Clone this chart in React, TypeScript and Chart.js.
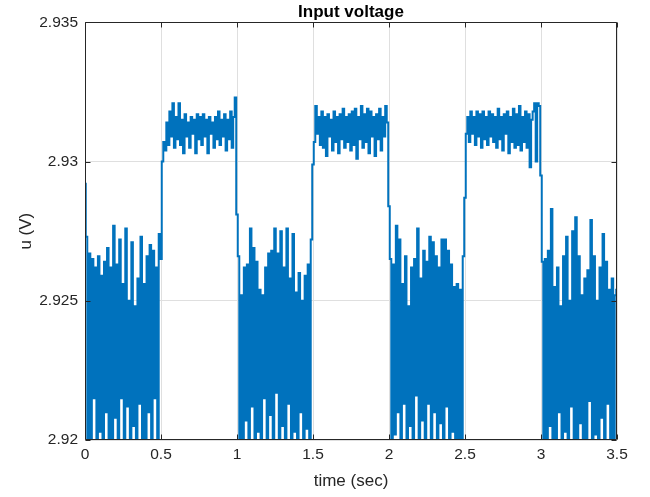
import React, { useEffect, useRef } from "react";
import { Chart, registerables } from "chart.js";

Chart.register(...registerables);

const TITLE = "Input voltage";
const X_LABEL = "time (sec)";
const Y_LABEL = "u (V)";
const X_TICKS = [0, 0.5, 1, 1.5, 2, 2.5, 3, 3.5];
const Y_TICKS = [2.92, 2.925, 2.93, 2.935];
const SAMPLE_STEP = 0.01;
const PERIOD_STARTS = [0, 0.5, 1, 1.5, 2, 2.5, 3];

// 0.00 .. 0.49 s
const period0 = [
  2.9292, 2.9273, 2.9195, 2.9267, 2.9198, 2.9265, 2.9215, 2.9262, 2.9192, 2.9266,
  2.9203, 2.9259, 2.9188, 2.9264, 2.921, 2.9269, 2.9196, 2.9262, 2.9186, 2.9277,
  2.9208, 2.9263, 2.9194, 2.9272, 2.9215, 2.9256, 2.919, 2.9276, 2.9212, 2.925,
  2.9196, 2.9271, 2.9205, 2.9248, 2.9188, 2.9258, 2.9213, 2.9273, 2.9197, 2.9256,
  2.919, 2.9266, 2.921, 2.927, 2.9194, 2.9268, 2.9215, 2.9262, 2.92, 2.9274,
];
// 0.50 .. 0.99 s
const period1 = [
  2.9265, 2.93, 2.9307, 2.9304, 2.9314, 2.9306, 2.9318, 2.9309, 2.9321, 2.9305,
  2.9316, 2.9308, 2.9321, 2.9306, 2.9315, 2.9303, 2.9317, 2.9309, 2.9314, 2.9305,
  2.9316, 2.931, 2.9315, 2.9303, 2.9317, 2.9308, 2.9316, 2.9306, 2.9317, 2.9309,
  2.9315, 2.9303, 2.9316, 2.931, 2.9314, 2.9305, 2.9316, 2.9308, 2.9318, 2.9306,
  2.9315, 2.9309, 2.9317, 2.9304, 2.9315, 2.9308, 2.9318, 2.9305, 2.9316, 2.9323,
];
// 1.00 .. 1.49 s
const period2 = [
  2.9281, 2.9266, 2.9192, 2.9252, 2.9188, 2.9262, 2.9207, 2.9263, 2.9194, 2.9276,
  2.9212, 2.9269, 2.9185, 2.9264, 2.9203, 2.9254, 2.919, 2.9252, 2.9215, 2.9262,
  2.9196, 2.9267, 2.9209, 2.9268, 2.919, 2.9276, 2.9217, 2.9267, 2.9195, 2.9275,
  2.9205, 2.9262, 2.9188, 2.9276, 2.9213, 2.9258, 2.9193, 2.9274, 2.9203, 2.9253,
  2.9188, 2.926, 2.921, 2.925, 2.9192, 2.9259, 2.9204, 2.9263, 2.9195, 2.9272,
];
// 1.50 .. 1.99 s
const period3 = [
  2.9299, 2.9307, 2.932, 2.931, 2.9316, 2.9306, 2.9318, 2.9305, 2.9316, 2.9302,
  2.9317, 2.9309, 2.9315, 2.9304, 2.9318, 2.9307, 2.9316, 2.9303, 2.9317, 2.9308,
  2.9319, 2.9305, 2.9316, 2.9307, 2.9317, 2.9304, 2.9318, 2.9306, 2.9319, 2.9301,
  2.9316, 2.9308, 2.932, 2.9305, 2.9317, 2.9307, 2.9319, 2.9303, 2.9318, 2.9309,
  2.9316, 2.9302, 2.9317, 2.9308, 2.9319, 2.9304, 2.9316, 2.9309, 2.932, 2.9314,
];
// 2.00 .. 2.49 s
const period4 = [
  2.9284, 2.9265, 2.919, 2.9263, 2.9202, 2.9277, 2.921, 2.9272, 2.9194, 2.9256,
  2.9213, 2.9266, 2.9186, 2.9248, 2.9205, 2.9262, 2.9192, 2.9265, 2.9216, 2.9276,
  2.9198, 2.9258, 2.9207, 2.9268, 2.9188, 2.9264, 2.9213, 2.9273, 2.9195, 2.9271,
  2.921, 2.9266, 2.919, 2.9262, 2.9206, 2.9272, 2.9193, 2.9272, 2.9212, 2.9268,
  2.9188, 2.9263, 2.9203, 2.9255, 2.9192, 2.9256, 2.92, 2.9254, 2.9196, 2.9266,
];
// 2.50 .. 2.99 s
const period5 = [
  2.9287, 2.931, 2.9316, 2.9307, 2.9318, 2.931, 2.9316, 2.9306, 2.9318, 2.9309,
  2.9317, 2.9305, 2.9318, 2.9308, 2.9316, 2.9306, 2.9318, 2.9309, 2.9317, 2.9307,
  2.9316, 2.9305, 2.9319, 2.9308, 2.9316, 2.9304, 2.9317, 2.931, 2.9318, 2.9303,
  2.9316, 2.9307, 2.9319, 2.9305, 2.9317, 2.9306, 2.932, 2.9304, 2.9316, 2.9307,
  2.9318, 2.9305, 2.9317, 2.9298, 2.9315, 2.9318, 2.9321, 2.93, 2.9321, 2.932,
];
// 3.00 .. 3.50 s
const period6 = [
  2.9295, 2.9264, 2.919, 2.9265, 2.9198, 2.9268, 2.9205, 2.9283, 2.9192, 2.9255,
  2.9188, 2.9262, 2.921, 2.9248, 2.9186, 2.9266, 2.9203, 2.9273, 2.919, 2.925,
  2.9212, 2.9275, 2.9198, 2.928, 2.9194, 2.9266, 2.9206, 2.9252, 2.9188, 2.9258,
  2.9195, 2.9261, 2.9214, 2.9279, 2.9192, 2.9266, 2.9202, 2.925, 2.919, 2.9262,
  2.9208, 2.9274, 2.9196, 2.9264, 2.9213, 2.9254, 2.919, 2.9258, 2.9198, 2.9252,
  2.9254,
];

const PERIODS = [period0, period1, period2, period3, period4, period5, period6];

const FONT_FAMILY = '"Liberation Sans", Arial, Helvetica, sans-serif';
const AXIS_COLOR = "#262626";
const GRID_COLOR = "#dfdfdf";
const LINE_COLOR = "#0072BD";

const boxPlugin = {
  id: "matlabBox",
  afterDatasetsDraw(chart: any) {
    const { ctx, chartArea, scales } = chart;
    const l = Math.round(chartArea.left) + 0.5;
    const r = Math.round(chartArea.right) - 0.5;
    const t = Math.round(chartArea.top) + 0.5;
    const b = Math.round(chartArea.bottom) - 0.5;
    const tickLen = 5;
    ctx.save();
    ctx.strokeStyle = AXIS_COLOR;
    ctx.lineWidth = 1;
    ctx.beginPath();
    ctx.rect(l, t, r - l, b - t);
    X_TICKS.forEach((v) => {
      const px = Math.round(scales.x.getPixelForValue(v)) + 0.5;
      ctx.moveTo(px, b);
      ctx.lineTo(px, b - tickLen);
      ctx.moveTo(px, t);
      ctx.lineTo(px, t + tickLen);
    });
    Y_TICKS.forEach((v) => {
      const py = Math.round(scales.y.getPixelForValue(v)) + 0.5;
      ctx.moveTo(l, py);
      ctx.lineTo(l + tickLen, py);
      ctx.moveTo(r, py);
      ctx.lineTo(r - tickLen, py);
    });
    ctx.stroke();
    ctx.restore();
  },
};

export default function App() {
  const canvasRef = useRef<HTMLCanvasElement | null>(null);

  useEffect(() => {
    if (!canvasRef.current) return;
    const points: { x: number; y: number }[] = [];
    PERIODS.forEach((vals, p) => {
      vals.forEach((v, i) => {
        points.push({ x: Number((PERIOD_STARTS[p] + i * SAMPLE_STEP).toFixed(2)), y: v });
      });
    });

    const chart = new Chart(canvasRef.current, {
      type: "line",
      data: {
        datasets: [
          {
            label: "u",
            data: points,
            borderColor: LINE_COLOR,
            backgroundColor: LINE_COLOR,
            borderWidth: 2,
            pointRadius: 0,
            stepped: "middle",
            fill: false,
            clip: 0,
          } as any,
        ],
      },
      options: {
        animation: false,
        responsive: false,
        devicePixelRatio: 1,
        layout: { padding: { left: 0, right: 33, top: 0, bottom: 0 } },
        plugins: {
          legend: { display: false },
          tooltip: { enabled: false },
          title: {
            display: true,
            text: TITLE,
            fullSize: false,
            color: "#000",
            font: { family: FONT_FAMILY, size: 17, weight: "bold" },
            padding: { top: 2, bottom: 0 },
          },
        },
        scales: {
          x: {
            type: "linear",
            min: 0,
            max: 3.5,
            afterBuildTicks: (s: any) => {
              s.ticks = X_TICKS.map((v) => ({ value: v }));
            },
            afterFit: (s: any) => {
              s.height = 57;
            },
            ticks: {
              autoSkip: false,
              maxRotation: 0,
              color: AXIS_COLOR,
              padding: 5,
              font: { family: FONT_FAMILY, size: 15.5 },
              callback: (v: any) => String(Number(Number(v).toFixed(2))),
            },
            grid: { color: GRID_COLOR, drawTicks: false, lineWidth: 1 },
            border: { display: false },
            title: {
              display: true,
              text: X_LABEL,
              color: AXIS_COLOR,
              font: { family: FONT_FAMILY, size: 17 },
              padding: { top: 0, bottom: 5 },
            },
          },
          y: {
            type: "linear",
            min: 2.92,
            max: 2.935,
            afterBuildTicks: (s: any) => {
              s.ticks = Y_TICKS.map((v) => ({ value: v }));
            },
            afterFit: (s: any) => {
              s.width = 85;
            },
            ticks: {
              autoSkip: false,
              color: AXIS_COLOR,
              padding: 7,
              font: { family: FONT_FAMILY, size: 15.5 },
              callback: (v: any) => String(Number(Number(v).toFixed(3))),
            },
            grid: { color: GRID_COLOR, drawTicks: false, lineWidth: 1 },
            border: { display: false },
            title: {
              display: true,
              text: Y_LABEL,
              color: AXIS_COLOR,
              font: { family: FONT_FAMILY, size: 17 },
              padding: { top: 16, bottom: 0 },
            },
          },
        },
      } as any,
      plugins: [boxPlugin],
    });
    return () => chart.destroy();
  }, []);

  return (
    <div style={{ position: "fixed", left: 0, top: 0, width: 650, height: 497, background: "#fff" }}>
      <canvas ref={canvasRef} width={650} height={497} />
    </div>
  );
}
